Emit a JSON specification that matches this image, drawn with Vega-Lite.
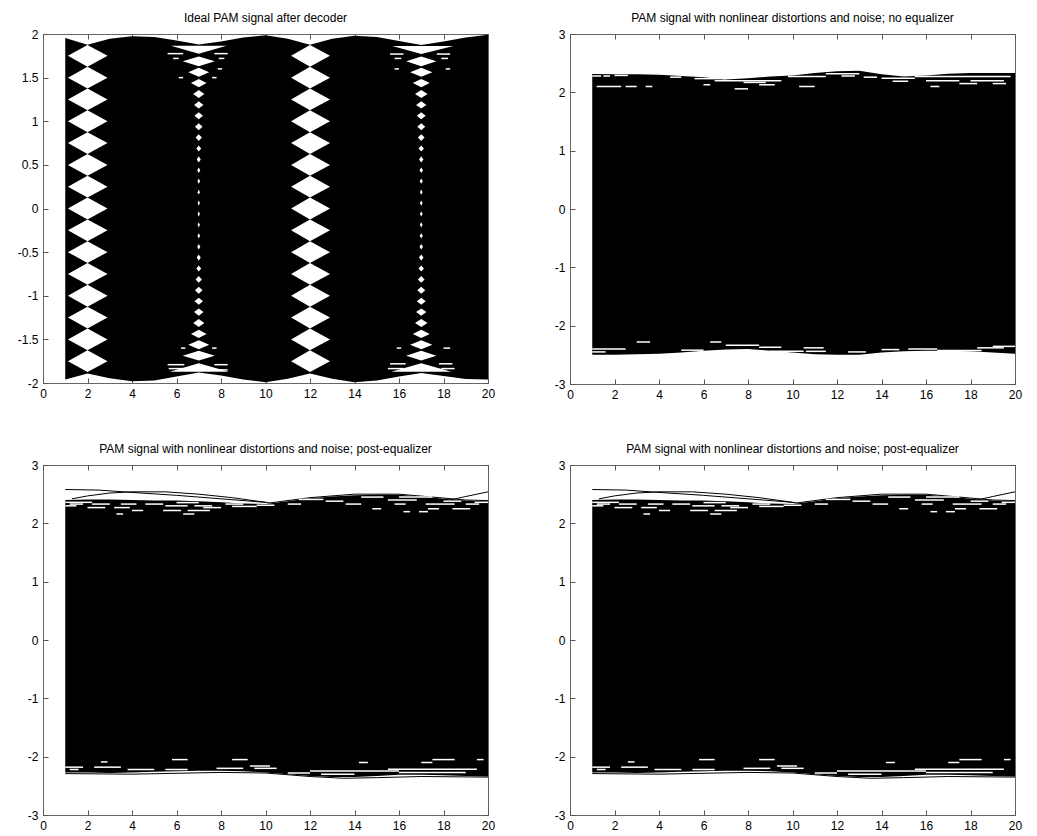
{
"$schema": "https://vega.github.io/schema/vega-lite/v6.json",
"padding": {"left": 16, "top": 11, "right": 5, "bottom": 5},
"background": "white",
"datasets": {
"env": [
{"p":"A","x":1,"hi":1.955,"lo":-1.96},{"p":"A","x":2,"hi":1.876,"lo":-1.89},{"p":"A","x":3,"hi":1.945,"lo":-1.945},{"p":"A","x":4,"hi":1.975,"lo":-1.98},{"p":"A","x":5,"hi":1.965,"lo":-1.97},{"p":"A","x":6,"hi":1.925,"lo":-1.925},{"p":"A","x":7,"hi":1.88,"lo":-1.88},{"p":"A","x":8,"hi":1.915,"lo":-1.915},{"p":"A","x":9,"hi":1.96,"lo":-1.96},{"p":"A","x":10,"hi":1.985,"lo":-1.99},{"p":"A","x":11,"hi":1.945,"lo":-1.95},{"p":"A","x":12,"hi":1.876,"lo":-1.89},{"p":"A","x":13,"hi":1.945,"lo":-1.95},{"p":"A","x":14,"hi":1.98,"lo":-1.99},{"p":"A","x":15,"hi":1.965,"lo":-1.97},{"p":"A","x":16,"hi":1.92,"lo":-1.925},{"p":"A","x":17,"hi":1.875,"lo":-1.885},{"p":"A","x":18,"hi":1.915,"lo":-1.92},{"p":"A","x":19,"hi":1.96,"lo":-1.955},{"p":"A","x":20,"hi":1.99,"lo":-1.96},
{"p":"B","x":1,"hi":2.315,"lo":-2.5},{"p":"B","x":2,"hi":2.31,"lo":-2.5},{"p":"B","x":3,"hi":2.31,"lo":-2.49},{"p":"B","x":4,"hi":2.3,"lo":-2.48},{"p":"B","x":5,"hi":2.28,"lo":-2.46},{"p":"B","x":6,"hi":2.26,"lo":-2.43},{"p":"B","x":7,"hi":2.22,"lo":-2.41},{"p":"B","x":8,"hi":2.24,"lo":-2.4},{"p":"B","x":9,"hi":2.27,"lo":-2.43},{"p":"B","x":10,"hi":2.29,"lo":-2.46},{"p":"B","x":11,"hi":2.33,"lo":-2.49},{"p":"B","x":12,"hi":2.36,"lo":-2.5},{"p":"B","x":13,"hi":2.37,"lo":-2.5},{"p":"B","x":14,"hi":2.31,"lo":-2.46},{"p":"B","x":15,"hi":2.27,"lo":-2.44},{"p":"B","x":16,"hi":2.29,"lo":-2.43},{"p":"B","x":17,"hi":2.32,"lo":-2.43},{"p":"B","x":18,"hi":2.33,"lo":-2.44},{"p":"B","x":19,"hi":2.33,"lo":-2.46},{"p":"B","x":20,"hi":2.33,"lo":-2.48},
{"p":"C","x":1,"hi":2.4,"lo":-2.27},{"p":"C","x":2,"hi":2.41,"lo":-2.27},{"p":"C","x":3,"hi":2.41,"lo":-2.28},{"p":"C","x":4,"hi":2.4,"lo":-2.27},{"p":"C","x":5,"hi":2.39,"lo":-2.26},{"p":"C","x":6,"hi":2.39,"lo":-2.25},{"p":"C","x":7,"hi":2.38,"lo":-2.24},{"p":"C","x":8,"hi":2.36,"lo":-2.24},{"p":"C","x":9,"hi":2.34,"lo":-2.25},{"p":"C","x":10,"hi":2.33,"lo":-2.27},{"p":"C","x":11,"hi":2.38,"lo":-2.3},{"p":"C","x":12,"hi":2.43,"lo":-2.33},{"p":"C","x":13,"hi":2.46,"lo":-2.35},{"p":"C","x":14,"hi":2.48,"lo":-2.35},{"p":"C","x":15,"hi":2.49,"lo":-2.33},{"p":"C","x":16,"hi":2.49,"lo":-2.31},{"p":"C","x":17,"hi":2.46,"lo":-2.31},{"p":"C","x":18,"hi":2.42,"lo":-2.32},{"p":"C","x":19,"hi":2.39,"lo":-2.33},{"p":"C","x":20,"hi":2.38,"lo":-2.34}
],
"dia": [
{"g":"b2a","x":1.12,"hi":-1.75,"lo":-1.75},{"g":"b2a","x":2,"hi":-1.625,"lo":-1.875},{"g":"b2a","x":2.9,"hi":-1.75,"lo":-1.75},
{"g":"b2b","x":1.12,"hi":-1.5,"lo":-1.5},{"g":"b2b","x":2,"hi":-1.375,"lo":-1.625},{"g":"b2b","x":2.9,"hi":-1.5,"lo":-1.5},
{"g":"b2c","x":1.12,"hi":-1.25,"lo":-1.25},{"g":"b2c","x":2,"hi":-1.125,"lo":-1.375},{"g":"b2c","x":2.9,"hi":-1.25,"lo":-1.25},
{"g":"b2d","x":1.12,"hi":-1,"lo":-1},{"g":"b2d","x":2,"hi":-0.875,"lo":-1.125},{"g":"b2d","x":2.9,"hi":-1,"lo":-1},
{"g":"b2e","x":1.12,"hi":-0.75,"lo":-0.75},{"g":"b2e","x":2,"hi":-0.625,"lo":-0.875},{"g":"b2e","x":2.9,"hi":-0.75,"lo":-0.75},
{"g":"b2f","x":1.12,"hi":-0.5,"lo":-0.5},{"g":"b2f","x":2,"hi":-0.375,"lo":-0.625},{"g":"b2f","x":2.9,"hi":-0.5,"lo":-0.5},
{"g":"b2g","x":1.12,"hi":-0.25,"lo":-0.25},{"g":"b2g","x":2,"hi":-0.125,"lo":-0.375},{"g":"b2g","x":2.9,"hi":-0.25,"lo":-0.25},
{"g":"b2h","x":1.12,"hi":0,"lo":0},{"g":"b2h","x":2,"hi":0.125,"lo":-0.125},{"g":"b2h","x":2.9,"hi":0,"lo":0},
{"g":"b2i","x":1.12,"hi":0.25,"lo":0.25},{"g":"b2i","x":2,"hi":0.375,"lo":0.125},{"g":"b2i","x":2.9,"hi":0.25,"lo":0.25},
{"g":"b2j","x":1.12,"hi":0.5,"lo":0.5},{"g":"b2j","x":2,"hi":0.625,"lo":0.375},{"g":"b2j","x":2.9,"hi":0.5,"lo":0.5},
{"g":"b2k","x":1.12,"hi":0.75,"lo":0.75},{"g":"b2k","x":2,"hi":0.875,"lo":0.625},{"g":"b2k","x":2.9,"hi":0.75,"lo":0.75},
{"g":"b2l","x":1.12,"hi":1,"lo":1},{"g":"b2l","x":2,"hi":1.125,"lo":0.875},{"g":"b2l","x":2.9,"hi":1,"lo":1},
{"g":"b2m","x":1.12,"hi":1.25,"lo":1.25},{"g":"b2m","x":2,"hi":1.375,"lo":1.125},{"g":"b2m","x":2.9,"hi":1.25,"lo":1.25},
{"g":"b2n","x":1.12,"hi":1.5,"lo":1.5},{"g":"b2n","x":2,"hi":1.625,"lo":1.375},{"g":"b2n","x":2.9,"hi":1.5,"lo":1.5},
{"g":"b2o","x":1.12,"hi":1.75,"lo":1.75},{"g":"b2o","x":2,"hi":1.875,"lo":1.625},{"g":"b2o","x":2.9,"hi":1.75,"lo":1.75},
{"g":"b12a","x":11.15,"hi":-1.75,"lo":-1.75},{"g":"b12a","x":12,"hi":-1.625,"lo":-1.875},{"g":"b12a","x":12.9,"hi":-1.75,"lo":-1.75},
{"g":"b12b","x":11.15,"hi":-1.5,"lo":-1.5},{"g":"b12b","x":12,"hi":-1.375,"lo":-1.625},{"g":"b12b","x":12.9,"hi":-1.5,"lo":-1.5},
{"g":"b12c","x":11.15,"hi":-1.25,"lo":-1.25},{"g":"b12c","x":12,"hi":-1.125,"lo":-1.375},{"g":"b12c","x":12.9,"hi":-1.25,"lo":-1.25},
{"g":"b12d","x":11.15,"hi":-1,"lo":-1},{"g":"b12d","x":12,"hi":-0.875,"lo":-1.125},{"g":"b12d","x":12.9,"hi":-1,"lo":-1},
{"g":"b12e","x":11.15,"hi":-0.75,"lo":-0.75},{"g":"b12e","x":12,"hi":-0.625,"lo":-0.875},{"g":"b12e","x":12.9,"hi":-0.75,"lo":-0.75},
{"g":"b12f","x":11.15,"hi":-0.5,"lo":-0.5},{"g":"b12f","x":12,"hi":-0.375,"lo":-0.625},{"g":"b12f","x":12.9,"hi":-0.5,"lo":-0.5},
{"g":"b12g","x":11.15,"hi":-0.25,"lo":-0.25},{"g":"b12g","x":12,"hi":-0.125,"lo":-0.375},{"g":"b12g","x":12.9,"hi":-0.25,"lo":-0.25},
{"g":"b12h","x":11.15,"hi":0,"lo":0},{"g":"b12h","x":12,"hi":0.125,"lo":-0.125},{"g":"b12h","x":12.9,"hi":0,"lo":0},
{"g":"b12i","x":11.15,"hi":0.25,"lo":0.25},{"g":"b12i","x":12,"hi":0.375,"lo":0.125},{"g":"b12i","x":12.9,"hi":0.25,"lo":0.25},
{"g":"b12j","x":11.15,"hi":0.5,"lo":0.5},{"g":"b12j","x":12,"hi":0.625,"lo":0.375},{"g":"b12j","x":12.9,"hi":0.5,"lo":0.5},
{"g":"b12k","x":11.15,"hi":0.75,"lo":0.75},{"g":"b12k","x":12,"hi":0.875,"lo":0.625},{"g":"b12k","x":12.9,"hi":0.75,"lo":0.75},
{"g":"b12l","x":11.15,"hi":1,"lo":1},{"g":"b12l","x":12,"hi":1.125,"lo":0.875},{"g":"b12l","x":12.9,"hi":1,"lo":1},
{"g":"b12m","x":11.15,"hi":1.25,"lo":1.25},{"g":"b12m","x":12,"hi":1.375,"lo":1.125},{"g":"b12m","x":12.9,"hi":1.25,"lo":1.25},
{"g":"b12n","x":11.15,"hi":1.5,"lo":1.5},{"g":"b12n","x":12,"hi":1.625,"lo":1.375},{"g":"b12n","x":12.9,"hi":1.5,"lo":1.5},
{"g":"b12o","x":11.15,"hi":1.75,"lo":1.75},{"g":"b12o","x":12,"hi":1.875,"lo":1.625},{"g":"b12o","x":12.9,"hi":1.75,"lo":1.75},
{"g":"s7p0","x":6.95,"hi":0.0625,"lo":0.0625},{"g":"s7p0","x":7,"hi":0.0925,"lo":0.0325},{"g":"s7p0","x":7.05,"hi":0.0625,"lo":0.0625},
{"g":"s7p1","x":6.95,"hi":0.1875,"lo":0.1875},{"g":"s7p1","x":7,"hi":0.2175,"lo":0.1575},{"g":"s7p1","x":7.05,"hi":0.1875,"lo":0.1875},
{"g":"s7p2","x":6.94,"hi":0.3125,"lo":0.3125},{"g":"s7p2","x":7,"hi":0.3425,"lo":0.2825},{"g":"s7p2","x":7.06,"hi":0.3125,"lo":0.3125},
{"g":"s7p3","x":6.93,"hi":0.4375,"lo":0.4375},{"g":"s7p3","x":7,"hi":0.4695,"lo":0.4055},{"g":"s7p3","x":7.07,"hi":0.4375,"lo":0.4375},
{"g":"s7p4","x":6.91,"hi":0.5625,"lo":0.5625},{"g":"s7p4","x":7,"hi":0.5975,"lo":0.5275},{"g":"s7p4","x":7.09,"hi":0.5625,"lo":0.5625},
{"g":"s7p5","x":6.89,"hi":0.6875,"lo":0.6875},{"g":"s7p5","x":7,"hi":0.7225,"lo":0.6525},{"g":"s7p5","x":7.11,"hi":0.6875,"lo":0.6875},
{"g":"s7p6","x":6.86,"hi":0.8125,"lo":0.8125},{"g":"s7p6","x":7,"hi":0.8505,"lo":0.7745},{"g":"s7p6","x":7.14,"hi":0.8125,"lo":0.8125},
{"g":"s7p7","x":6.83,"hi":0.9375,"lo":0.9375},{"g":"s7p7","x":7,"hi":0.9775,"lo":0.8975},{"g":"s7p7","x":7.17,"hi":0.9375,"lo":0.9375},
{"g":"s7p8","x":6.81,"hi":1.0625,"lo":1.0625},{"g":"s7p8","x":7,"hi":1.1025,"lo":1.0225},{"g":"s7p8","x":7.19,"hi":1.0625,"lo":1.0625},
{"g":"s7p9","x":6.79,"hi":1.1875,"lo":1.1875},{"g":"s7p9","x":7,"hi":1.2295,"lo":1.1455},{"g":"s7p9","x":7.21,"hi":1.1875,"lo":1.1875},
{"g":"s7p10","x":6.75,"hi":1.3125,"lo":1.3125},{"g":"s7p10","x":7,"hi":1.3575,"lo":1.2675},{"g":"s7p10","x":7.25,"hi":1.3125,"lo":1.3125},
{"g":"s7p11","x":6.65,"hi":1.4375,"lo":1.4375},{"g":"s7p11","x":7,"hi":1.4855,"lo":1.3895},{"g":"s7p11","x":7.35,"hi":1.4375,"lo":1.4375},
{"g":"s7p12","x":6.53,"hi":1.5625,"lo":1.5625},{"g":"s7p12","x":7,"hi":1.6145,"lo":1.5105},{"g":"s7p12","x":7.47,"hi":1.5625,"lo":1.5625},
{"g":"s7p13","x":6.28,"hi":1.6875,"lo":1.6875},{"g":"s7p13","x":7,"hi":1.7435,"lo":1.6315},{"g":"s7p13","x":7.72,"hi":1.6875,"lo":1.6875},
{"g":"s7m0","x":6.95,"hi":-0.0625,"lo":-0.0625},{"g":"s7m0","x":7,"hi":-0.0325,"lo":-0.0925},{"g":"s7m0","x":7.05,"hi":-0.0625,"lo":-0.0625},
{"g":"s7m1","x":6.95,"hi":-0.1875,"lo":-0.1875},{"g":"s7m1","x":7,"hi":-0.1575,"lo":-0.2175},{"g":"s7m1","x":7.05,"hi":-0.1875,"lo":-0.1875},
{"g":"s7m2","x":6.94,"hi":-0.3125,"lo":-0.3125},{"g":"s7m2","x":7,"hi":-0.2825,"lo":-0.3425},{"g":"s7m2","x":7.06,"hi":-0.3125,"lo":-0.3125},
{"g":"s7m3","x":6.93,"hi":-0.4375,"lo":-0.4375},{"g":"s7m3","x":7,"hi":-0.4055,"lo":-0.4695},{"g":"s7m3","x":7.07,"hi":-0.4375,"lo":-0.4375},
{"g":"s7m4","x":6.91,"hi":-0.5625,"lo":-0.5625},{"g":"s7m4","x":7,"hi":-0.5275,"lo":-0.5975},{"g":"s7m4","x":7.09,"hi":-0.5625,"lo":-0.5625},
{"g":"s7m5","x":6.89,"hi":-0.6875,"lo":-0.6875},{"g":"s7m5","x":7,"hi":-0.6525,"lo":-0.7225},{"g":"s7m5","x":7.11,"hi":-0.6875,"lo":-0.6875},
{"g":"s7m6","x":6.86,"hi":-0.8125,"lo":-0.8125},{"g":"s7m6","x":7,"hi":-0.7745,"lo":-0.8505},{"g":"s7m6","x":7.14,"hi":-0.8125,"lo":-0.8125},
{"g":"s7m7","x":6.83,"hi":-0.9375,"lo":-0.9375},{"g":"s7m7","x":7,"hi":-0.8975,"lo":-0.9775},{"g":"s7m7","x":7.17,"hi":-0.9375,"lo":-0.9375},
{"g":"s7m8","x":6.81,"hi":-1.0625,"lo":-1.0625},{"g":"s7m8","x":7,"hi":-1.0225,"lo":-1.1025},{"g":"s7m8","x":7.19,"hi":-1.0625,"lo":-1.0625},
{"g":"s7m9","x":6.79,"hi":-1.1875,"lo":-1.1875},{"g":"s7m9","x":7,"hi":-1.1455,"lo":-1.2295},{"g":"s7m9","x":7.21,"hi":-1.1875,"lo":-1.1875},
{"g":"s7m10","x":6.75,"hi":-1.3125,"lo":-1.3125},{"g":"s7m10","x":7,"hi":-1.2675,"lo":-1.3575},{"g":"s7m10","x":7.25,"hi":-1.3125,"lo":-1.3125},
{"g":"s7m11","x":6.65,"hi":-1.4375,"lo":-1.4375},{"g":"s7m11","x":7,"hi":-1.3895,"lo":-1.4855},{"g":"s7m11","x":7.35,"hi":-1.4375,"lo":-1.4375},
{"g":"s7m12","x":6.53,"hi":-1.5625,"lo":-1.5625},{"g":"s7m12","x":7,"hi":-1.5105,"lo":-1.6145},{"g":"s7m12","x":7.47,"hi":-1.5625,"lo":-1.5625},
{"g":"s7m13","x":6.28,"hi":-1.6875,"lo":-1.6875},{"g":"s7m13","x":7,"hi":-1.6315,"lo":-1.7435},{"g":"s7m13","x":7.72,"hi":-1.6875,"lo":-1.6875},
{"g":"s17p0","x":16.94,"hi":0.0625,"lo":0.0625},{"g":"s17p0","x":17,"hi":0.0925,"lo":0.0325},{"g":"s17p0","x":17.06,"hi":0.0625,"lo":0.0625},
{"g":"s17p1","x":16.94,"hi":0.1875,"lo":0.1875},{"g":"s17p1","x":17,"hi":0.2175,"lo":0.1575},{"g":"s17p1","x":17.06,"hi":0.1875,"lo":0.1875},
{"g":"s17p2","x":16.93,"hi":0.3125,"lo":0.3125},{"g":"s17p2","x":17,"hi":0.3425,"lo":0.2825},{"g":"s17p2","x":17.07,"hi":0.3125,"lo":0.3125},
{"g":"s17p3","x":16.92,"hi":0.4375,"lo":0.4375},{"g":"s17p3","x":17,"hi":0.4695,"lo":0.4055},{"g":"s17p3","x":17.08,"hi":0.4375,"lo":0.4375},
{"g":"s17p4","x":16.9,"hi":0.5625,"lo":0.5625},{"g":"s17p4","x":17,"hi":0.5975,"lo":0.5275},{"g":"s17p4","x":17.1,"hi":0.5625,"lo":0.5625},
{"g":"s17p5","x":16.88,"hi":0.6875,"lo":0.6875},{"g":"s17p5","x":17,"hi":0.7225,"lo":0.6525},{"g":"s17p5","x":17.12,"hi":0.6875,"lo":0.6875},
{"g":"s17p6","x":16.85,"hi":0.8125,"lo":0.8125},{"g":"s17p6","x":17,"hi":0.8505,"lo":0.7745},{"g":"s17p6","x":17.15,"hi":0.8125,"lo":0.8125},
{"g":"s17p7","x":16.82,"hi":0.9375,"lo":0.9375},{"g":"s17p7","x":17,"hi":0.9775,"lo":0.8975},{"g":"s17p7","x":17.18,"hi":0.9375,"lo":0.9375},
{"g":"s17p8","x":16.8,"hi":1.0625,"lo":1.0625},{"g":"s17p8","x":17,"hi":1.1025,"lo":1.0225},{"g":"s17p8","x":17.2,"hi":1.0625,"lo":1.0625},
{"g":"s17p9","x":16.77,"hi":1.1875,"lo":1.1875},{"g":"s17p9","x":17,"hi":1.2295,"lo":1.1455},{"g":"s17p9","x":17.23,"hi":1.1875,"lo":1.1875},
{"g":"s17p10","x":16.72,"hi":1.3125,"lo":1.3125},{"g":"s17p10","x":17,"hi":1.3575,"lo":1.2675},{"g":"s17p10","x":17.28,"hi":1.3125,"lo":1.3125},
{"g":"s17p11","x":16.62,"hi":1.4375,"lo":1.4375},{"g":"s17p11","x":17,"hi":1.4855,"lo":1.3895},{"g":"s17p11","x":17.38,"hi":1.4375,"lo":1.4375},
{"g":"s17p12","x":16.5,"hi":1.5625,"lo":1.5625},{"g":"s17p12","x":17,"hi":1.6145,"lo":1.5105},{"g":"s17p12","x":17.5,"hi":1.5625,"lo":1.5625},
{"g":"s17p13","x":16.32,"hi":1.6875,"lo":1.6875},{"g":"s17p13","x":17,"hi":1.7435,"lo":1.6315},{"g":"s17p13","x":17.68,"hi":1.6875,"lo":1.6875},
{"g":"s17m0","x":16.94,"hi":-0.0625,"lo":-0.0625},{"g":"s17m0","x":17,"hi":-0.0325,"lo":-0.0925},{"g":"s17m0","x":17.06,"hi":-0.0625,"lo":-0.0625},
{"g":"s17m1","x":16.94,"hi":-0.1875,"lo":-0.1875},{"g":"s17m1","x":17,"hi":-0.1575,"lo":-0.2175},{"g":"s17m1","x":17.06,"hi":-0.1875,"lo":-0.1875},
{"g":"s17m2","x":16.93,"hi":-0.3125,"lo":-0.3125},{"g":"s17m2","x":17,"hi":-0.2825,"lo":-0.3425},{"g":"s17m2","x":17.07,"hi":-0.3125,"lo":-0.3125},
{"g":"s17m3","x":16.92,"hi":-0.4375,"lo":-0.4375},{"g":"s17m3","x":17,"hi":-0.4055,"lo":-0.4695},{"g":"s17m3","x":17.08,"hi":-0.4375,"lo":-0.4375},
{"g":"s17m4","x":16.9,"hi":-0.5625,"lo":-0.5625},{"g":"s17m4","x":17,"hi":-0.5275,"lo":-0.5975},{"g":"s17m4","x":17.1,"hi":-0.5625,"lo":-0.5625},
{"g":"s17m5","x":16.88,"hi":-0.6875,"lo":-0.6875},{"g":"s17m5","x":17,"hi":-0.6525,"lo":-0.7225},{"g":"s17m5","x":17.12,"hi":-0.6875,"lo":-0.6875},
{"g":"s17m6","x":16.85,"hi":-0.8125,"lo":-0.8125},{"g":"s17m6","x":17,"hi":-0.7745,"lo":-0.8505},{"g":"s17m6","x":17.15,"hi":-0.8125,"lo":-0.8125},
{"g":"s17m7","x":16.82,"hi":-0.9375,"lo":-0.9375},{"g":"s17m7","x":17,"hi":-0.8975,"lo":-0.9775},{"g":"s17m7","x":17.18,"hi":-0.9375,"lo":-0.9375},
{"g":"s17m8","x":16.8,"hi":-1.0625,"lo":-1.0625},{"g":"s17m8","x":17,"hi":-1.0225,"lo":-1.1025},{"g":"s17m8","x":17.2,"hi":-1.0625,"lo":-1.0625},
{"g":"s17m9","x":16.77,"hi":-1.1875,"lo":-1.1875},{"g":"s17m9","x":17,"hi":-1.1455,"lo":-1.2295},{"g":"s17m9","x":17.23,"hi":-1.1875,"lo":-1.1875},
{"g":"s17m10","x":16.72,"hi":-1.3125,"lo":-1.3125},{"g":"s17m10","x":17,"hi":-1.2675,"lo":-1.3575},{"g":"s17m10","x":17.28,"hi":-1.3125,"lo":-1.3125},
{"g":"s17m11","x":16.62,"hi":-1.4375,"lo":-1.4375},{"g":"s17m11","x":17,"hi":-1.3895,"lo":-1.4855},{"g":"s17m11","x":17.38,"hi":-1.4375,"lo":-1.4375},
{"g":"s17m12","x":16.5,"hi":-1.5625,"lo":-1.5625},{"g":"s17m12","x":17,"hi":-1.5105,"lo":-1.6145},{"g":"s17m12","x":17.5,"hi":-1.5625,"lo":-1.5625},
{"g":"s17m13","x":16.32,"hi":-1.6875,"lo":-1.6875},{"g":"s17m13","x":17,"hi":-1.6315,"lo":-1.7435},{"g":"s17m13","x":17.68,"hi":-1.6875,"lo":-1.6875},
{"g":"t7t","x":5.75,"hi":1.865,"lo":1.865},{"g":"t7t","x":7,"hi":1.865,"lo":1.775},{"g":"t7t","x":8.25,"hi":1.865,"lo":1.865},
{"g":"t7b","x":5.7,"hi":-1.87,"lo":-1.87},{"g":"t7b","x":7,"hi":-1.775,"lo":-1.87},{"g":"t7b","x":8.35,"hi":-1.87,"lo":-1.87},
{"g":"t17t","x":15.7,"hi":1.862,"lo":1.862},{"g":"t17t","x":17,"hi":1.862,"lo":1.77},{"g":"t17t","x":18.45,"hi":1.862,"lo":1.862},
{"g":"t17b","x":15.65,"hi":-1.87,"lo":-1.87},{"g":"t17b","x":17,"hi":-1.775,"lo":-1.87},{"g":"t17b","x":18.35,"hi":-1.87,"lo":-1.87}
],
"streak": [
{"p":"A","x":5.6,"x2":6.3,"y":1.775},{"p":"A","x":7.7,"x2":8.3,"y":1.775},{"p":"A","x":5.85,"x2":6.1,"y":1.72},{"p":"A","x":7.9,"x2":8.15,"y":1.72},{"p":"A","x":6.1,"x2":6.3,"y":1.5},{"p":"A","x":7.6,"x2":7.8,"y":1.5},{"p":"A","x":7.85,"x2":8.05,"y":1.6},{"p":"A","x":5.6,"x2":6.35,"y":-1.79},{"p":"A","x":7.7,"x2":8.3,"y":-1.79},{"p":"A","x":5.65,"x2":6.4,"y":-1.835},{"p":"A","x":7.6,"x2":8.3,"y":-1.85},{"p":"A","x":6.2,"x2":6.4,"y":-1.6},{"p":"A","x":7.6,"x2":7.8,"y":-1.6},{"p":"A","x":15.6,"x2":16.2,"y":1.77},{"p":"A","x":17.7,"x2":18.3,"y":1.77},{"p":"A","x":15.8,"x2":16.1,"y":1.72},{"p":"A","x":17.9,"x2":18.2,"y":1.72},{"p":"A","x":15.8,"x2":16.0,"y":1.6},{"p":"A","x":18.1,"x2":18.3,"y":1.6},{"p":"A","x":15.6,"x2":16.3,"y":-1.78},{"p":"A","x":17.8,"x2":18.4,"y":-1.78},{"p":"A","x":15.5,"x2":16.2,"y":-1.835},{"p":"A","x":17.9,"x2":18.5,"y":-1.835},{"p":"A","x":15.9,"x2":16.1,"y":-1.6},{"p":"A","x":18.0,"x2":18.3,"y":-1.6},
{"p":"B","x":1.0,"x2":1.4,"y":2.28},{"p":"B","x":1.5,"x2":1.8,"y":2.28},{"p":"B","x":1.2,"x2":2.3,"y":2.1},{"p":"B","x":2.5,"x2":3.0,"y":2.1},{"p":"B","x":3.4,"x2":3.7,"y":2.1},{"p":"B","x":4.5,"x2":5.0,"y":2.26},{"p":"B","x":5.6,"x2":7.0,"y":2.235},{"p":"B","x":6.5,"x2":9.5,"y":2.2},{"p":"B","x":7.8,"x2":8.8,"y":2.17},{"p":"B","x":6.0,"x2":6.3,"y":2.13},{"p":"B","x":8.5,"x2":9.2,"y":2.13},{"p":"B","x":9.8,"x2":11.5,"y":2.27},{"p":"B","x":11.5,"x2":13,"y":2.32},{"p":"B","x":14,"x2":15.5,"y":2.24},{"p":"B","x":15.5,"x2":19.8,"y":2.27},{"p":"B","x":16,"x2":17.5,"y":2.2},{"p":"B","x":18,"x2":19.5,"y":2.2},{"p":"B","x":17.5,"x2":18.3,"y":2.15},{"p":"B","x":19,"x2":19.6,"y":2.15},{"p":"B","x":2.0,"x2":2.6,"y":2.29},{"p":"B","x":7.4,"x2":8.0,"y":2.06},{"p":"B","x":10.3,"x2":11.0,"y":2.1},{"p":"B","x":12.2,"x2":12.8,"y":2.28},{"p":"B","x":13.2,"x2":13.8,"y":2.26},{"p":"B","x":14.5,"x2":15.2,"y":2.19},{"p":"B","x":16.2,"x2":16.6,"y":2.1},
{"p":"B","x":1,"x2":2.5,"y":-2.4},{"p":"B","x":1,"x2":1.6,"y":-2.45},{"p":"B","x":3.0,"x2":3.6,"y":-2.28},{"p":"B","x":6.3,"x2":6.8,"y":-2.28},{"p":"B","x":7,"x2":8.5,"y":-2.335},{"p":"B","x":8.5,"x2":9.5,"y":-2.37},{"p":"B","x":9,"x2":10.5,"y":-2.44},{"p":"B","x":10.6,"x2":11.5,"y":-2.44},{"p":"B","x":10.5,"x2":11.4,"y":-2.38},{"p":"B","x":15.2,"x2":16.5,"y":-2.4},{"p":"B","x":16.5,"x2":18.5,"y":-2.425},{"p":"B","x":18.3,"x2":19.5,"y":-2.38},{"p":"B","x":19,"x2":20,"y":-2.355},{"p":"B","x":5.0,"x2":6.0,"y":-2.42},{"p":"B","x":12.5,"x2":13.3,"y":-2.45},{"p":"B","x":14.0,"x2":14.8,"y":-2.41},
{"p":"C","x":1.2,"x2":1.8,"y":2.33},{"p":"C","x":2.2,"x2":3.0,"y":2.33},{"p":"C","x":3.5,"x2":4.2,"y":2.33},{"p":"C","x":4.6,"x2":5.4,"y":2.33},{"p":"C","x":1.0,"x2":1.5,"y":2.3},{"p":"C","x":5.5,"x2":6.5,"y":2.3},{"p":"C","x":6.8,"x2":7.6,"y":2.3},{"p":"C","x":2.0,"x2":2.8,"y":2.27},{"p":"C","x":3.2,"x2":3.9,"y":2.27},{"p":"C","x":7.2,"x2":8.0,"y":2.27},{"p":"C","x":6.0,"x2":7.0,"y":2.355},{"p":"C","x":8.2,"x2":9.0,"y":2.33},{"p":"C","x":4.0,"x2":4.5,"y":2.22},{"p":"C","x":5.4,"x2":6.2,"y":2.22},{"p":"C","x":6.5,"x2":7.5,"y":2.22},{"p":"C","x":3.3,"x2":3.6,"y":2.16},{"p":"C","x":6.3,"x2":6.8,"y":2.16},{"p":"C","x":11.5,"x2":12.6,"y":2.41},{"p":"C","x":14.3,"x2":15.3,"y":2.45},{"p":"C","x":12.7,"x2":13.5,"y":2.38},{"p":"C","x":15.5,"x2":16.8,"y":2.4},{"p":"C","x":18.0,"x2":18.8,"y":2.38},{"p":"C","x":13.6,"x2":14.3,"y":2.33},{"p":"C","x":15.8,"x2":16.3,"y":2.33},{"p":"C","x":17.2,"x2":18.5,"y":2.33},{"p":"C","x":19.0,"x2":19.6,"y":2.33},{"p":"C","x":16.0,"x2":17.5,"y":2.45},{"p":"C","x":14.8,"x2":15.2,"y":2.25},{"p":"C","x":17.3,"x2":17.8,"y":2.25},{"p":"C","x":18.4,"x2":19.2,"y":2.25},{"p":"C","x":16.2,"x2":16.5,"y":2.2},{"p":"C","x":16.9,"x2":17.3,"y":2.2},{"p":"C","x":1.0,"x2":2.2,"y":2.36},{"p":"C","x":8.5,"x2":9.6,"y":2.29},{"p":"C","x":9.6,"x2":10.4,"y":2.31},{"p":"C","x":11.0,"x2":11.6,"y":2.33},{"p":"C","x":19.4,"x2":20,"y":2.36},
{"p":"C","x":1.0,"x2":1.8,"y":-2.18},{"p":"C","x":2.3,"x2":3.5,"y":-2.18},{"p":"C","x":1.2,"x2":1.6,"y":-2.22},{"p":"C","x":3.8,"x2":5.0,"y":-2.22},{"p":"C","x":5.5,"x2":6.5,"y":-2.22},{"p":"C","x":2.6,"x2":2.9,"y":-2.09},{"p":"C","x":7.8,"x2":9.0,"y":-2.2},{"p":"C","x":9.5,"x2":10.5,"y":-2.2},{"p":"C","x":9.3,"x2":10.2,"y":-2.16},{"p":"C","x":12.0,"x2":16.0,"y":-2.245},{"p":"C","x":15.5,"x2":19.5,"y":-2.215},{"p":"C","x":16.0,"x2":19.0,"y":-2.27},{"p":"C","x":5.8,"x2":6.5,"y":-2.05},{"p":"C","x":8.5,"x2":9.2,"y":-2.05},{"p":"C","x":17.5,"x2":18.5,"y":-2.05},{"p":"C","x":19.5,"x2":19.8,"y":-2.05},{"p":"C","x":17.0,"x2":17.5,"y":-2.1},{"p":"C","x":14.2,"x2":14.6,"y":-2.1},{"p":"C","x":11.0,"x2":12.0,"y":-2.28},{"p":"C","x":12.5,"x2":14,"y":-2.3}
],
"tr": [
{"g":"t1","x":1,"y":2.58},{"g":"t1","x":2.5,"y":2.57},{"g":"t1","x":4,"y":2.53},{"g":"t1","x":6,"y":2.48},{"g":"t1","x":8,"y":2.42},{"g":"t1","x":10,"y":2.36},
{"g":"t2","x":1.3,"y":2.42},{"g":"t2","x":2,"y":2.47},{"g":"t2","x":3,"y":2.52},{"g":"t2","x":4,"y":2.54},{"g":"t2","x":5.5,"y":2.54},{"g":"t2","x":7,"y":2.5},{"g":"t2","x":8.5,"y":2.44},{"g":"t2","x":10.2,"y":2.35},
{"g":"t3","x":18.3,"y":2.4},{"g":"t3","x":19,"y":2.46},{"g":"t3","x":20,"y":2.54},
{"g":"t4","x":10.2,"y":2.35},{"g":"t4","x":12,"y":2.44},{"g":"t4","x":14,"y":2.5},{"g":"t4","x":16,"y":2.5},{"g":"t4","x":17.5,"y":2.45},{"g":"t4","x":19,"y":2.4},{"g":"t4","x":20,"y":2.39},
{"g":"b1","x":1,"y":-2.29},{"g":"b1","x":4,"y":-2.3},{"g":"b1","x":8,"y":-2.27},{"g":"b1","x":10,"y":-2.28},{"g":"b1","x":12,"y":-2.34},{"g":"b1","x":13.5,"y":-2.37},{"g":"b1","x":15,"y":-2.36},{"g":"b1","x":17,"y":-2.34},{"g":"b1","x":20,"y":-2.35}
]
},
"vconcat": [
{"hconcat": [
{"title": "Ideal PAM signal after decoder", "width": 445, "height": 349,
 "resolve": {"axis": {"x": "independent", "y": "independent"}},
 "layer": [
  {"data": {"name": "env"}, "transform": [{"filter": "datum.p == 'A'"}], "mark": {"type": "area", "color": "black"},
   "encoding": {"x": {"field": "x", "type": "quantitative", "scale": {"domain": [0, 20], "nice": false, "zero": false}, "axis": {"orient": "bottom", "title": null, "values": [0,2,4,6,8,10,12,14,16,18,20], "labelExpr": "'' + datum.value"}},
    "y": {"field": "hi", "type": "quantitative", "scale": {"domain": [-2, 2], "nice": false, "zero": false}, "axis": {"orient": "left", "title": null, "values": [-2,-1.5,-1,-0.5,0,0.5,1,1.5,2], "labelExpr": "'' + datum.value"}},
    "y2": {"field": "lo"}}},
  {"data": {"name": "dia"}, "mark": {"type": "area", "color": "white"},
   "encoding": {"x": {"field": "x", "type": "quantitative", "scale": {"domain": [0, 20], "nice": false, "zero": false}, "axis": null},
    "y": {"field": "hi", "type": "quantitative", "scale": {"domain": [-2, 2], "nice": false, "zero": false}, "axis": null},
    "y2": {"field": "lo"}, "detail": {"field": "g"}}},
  {"data": {"name": "streak"}, "transform": [{"filter": "datum.p == 'A'"}], "mark": {"type": "rule", "color": "white", "strokeWidth": 1.5},
   "encoding": {"x": {"field": "x", "type": "quantitative", "scale": {"domain": [0, 20], "nice": false, "zero": false}, "axis": {"orient": "top", "title": null, "labels": false, "values": [0,2,4,6,8,10,12,14,16,18,20]}},
    "x2": {"field": "x2"},
    "y": {"field": "y", "type": "quantitative", "scale": {"domain": [-2, 2], "nice": false, "zero": false}, "axis": {"orient": "right", "title": null, "labels": false, "values": [-2,-1.5,-1,-0.5,0,0.5,1,1.5,2]}}}}
 ]},
{"title": "PAM signal with nonlinear distortions and noise; no equalizer", "width": 445, "height": 350,
 "resolve": {"axis": {"x": "independent", "y": "independent"}},
 "layer": [
  {"data": {"name": "env"}, "transform": [{"filter": "datum.p == 'B'"}], "mark": {"type": "area", "color": "black"},
   "encoding": {"x": {"field": "x", "type": "quantitative", "scale": {"domain": [0, 20], "nice": false, "zero": false}, "axis": {"orient": "bottom", "title": null, "values": [0,2,4,6,8,10,12,14,16,18,20], "labelExpr": "'' + datum.value"}},
    "y": {"field": "hi", "type": "quantitative", "scale": {"domain": [-3, 3], "nice": false, "zero": false}, "axis": {"orient": "left", "title": null, "values": [-3,-2,-1,0,1,2,3], "labelExpr": "'' + datum.value"}},
    "y2": {"field": "lo"}}},
  {"data": {"name": "streak"}, "transform": [{"filter": "datum.p == 'B'"}], "mark": {"type": "rule", "color": "white", "strokeWidth": 1.5},
   "encoding": {"x": {"field": "x", "type": "quantitative", "scale": {"domain": [0, 20], "nice": false, "zero": false}, "axis": {"orient": "top", "title": null, "labels": false, "values": [0,2,4,6,8,10,12,14,16,18,20]}},
    "x2": {"field": "x2"},
    "y": {"field": "y", "type": "quantitative", "scale": {"domain": [-3, 3], "nice": false, "zero": false}, "axis": {"orient": "right", "title": null, "labels": false, "values": [-3,-2,-1,0,1,2,3]}}}}
 ]}
], "spacing": 57},
{"hconcat": [
{"title": "PAM signal with nonlinear distortions and noise; post-equalizer", "width": 445, "height": 350,
 "resolve": {"axis": {"x": "independent", "y": "independent"}},
 "layer": [
  {"data": {"name": "env"}, "transform": [{"filter": "datum.p == 'C'"}], "mark": {"type": "area", "color": "black"},
   "encoding": {"x": {"field": "x", "type": "quantitative", "scale": {"domain": [0, 20], "nice": false, "zero": false}, "axis": {"orient": "bottom", "title": null, "values": [0,2,4,6,8,10,12,14,16,18,20], "labelExpr": "'' + datum.value"}},
    "y": {"field": "hi", "type": "quantitative", "scale": {"domain": [-3, 3], "nice": false, "zero": false}, "axis": {"orient": "left", "title": null, "values": [-3,-2,-1,0,1,2,3], "labelExpr": "'' + datum.value"}},
    "y2": {"field": "lo"}}},
  {"data": {"name": "tr"}, "mark": {"type": "line", "color": "black", "strokeWidth": 1},
   "encoding": {"x": {"field": "x", "type": "quantitative", "scale": {"domain": [0, 20], "nice": false, "zero": false}, "axis": null},
    "y": {"field": "y", "type": "quantitative", "scale": {"domain": [-3, 3], "nice": false, "zero": false}, "axis": null}, "detail": {"field": "g"}}},
  {"data": {"name": "streak"}, "transform": [{"filter": "datum.p == 'C'"}], "mark": {"type": "rule", "color": "white", "strokeWidth": 1.5},
   "encoding": {"x": {"field": "x", "type": "quantitative", "scale": {"domain": [0, 20], "nice": false, "zero": false}, "axis": {"orient": "top", "title": null, "labels": false, "values": [0,2,4,6,8,10,12,14,16,18,20]}},
    "x2": {"field": "x2"},
    "y": {"field": "y", "type": "quantitative", "scale": {"domain": [-3, 3], "nice": false, "zero": false}, "axis": {"orient": "right", "title": null, "labels": false, "values": [-3,-2,-1,0,1,2,3]}}}}
 ]},
{"title": "PAM signal with nonlinear distortions and noise; post-equalizer", "width": 445, "height": 350,
 "resolve": {"axis": {"x": "independent", "y": "independent"}},
 "layer": [
  {"data": {"name": "env"}, "transform": [{"filter": "datum.p == 'C'"}], "mark": {"type": "area", "color": "black"},
   "encoding": {"x": {"field": "x", "type": "quantitative", "scale": {"domain": [0, 20], "nice": false, "zero": false}, "axis": {"orient": "bottom", "title": null, "values": [0,2,4,6,8,10,12,14,16,18,20], "labelExpr": "'' + datum.value"}},
    "y": {"field": "hi", "type": "quantitative", "scale": {"domain": [-3, 3], "nice": false, "zero": false}, "axis": {"orient": "left", "title": null, "values": [-3,-2,-1,0,1,2,3], "labelExpr": "'' + datum.value"}},
    "y2": {"field": "lo"}}},
  {"data": {"name": "tr"}, "mark": {"type": "line", "color": "black", "strokeWidth": 1},
   "encoding": {"x": {"field": "x", "type": "quantitative", "scale": {"domain": [0, 20], "nice": false, "zero": false}, "axis": null},
    "y": {"field": "y", "type": "quantitative", "scale": {"domain": [-3, 3], "nice": false, "zero": false}, "axis": null}, "detail": {"field": "g"}}},
  {"data": {"name": "streak"}, "transform": [{"filter": "datum.p == 'C'"}], "mark": {"type": "rule", "color": "white", "strokeWidth": 1.5},
   "encoding": {"x": {"field": "x", "type": "quantitative", "scale": {"domain": [0, 20], "nice": false, "zero": false}, "axis": {"orient": "top", "title": null, "labels": false, "values": [0,2,4,6,8,10,12,14,16,18,20]}},
    "x2": {"field": "x2"},
    "y": {"field": "y", "type": "quantitative", "scale": {"domain": [-3, 3], "nice": false, "zero": false}, "axis": {"orient": "right", "title": null, "labels": false, "values": [-3,-2,-1,0,1,2,3]}}}}
 ]}
], "spacing": 57}
],
"spacing": 41,
"config": {
 "font": "Liberation Sans",
 "view": {"stroke": "#666", "strokeWidth": 1},
 "axis": {"domain": false, "grid": false, "ticks": true, "tickSize": -5, "tickColor": "#555", "labelFont": "Liberation Sans", "labelFontSize": 12, "labelColor": "#000", "labelPadding": 10, "labelFlush": false, "labelOverlap": false, "labelBound": false},
 "title": {"font": "Liberation Sans", "fontSize": 12, "fontWeight": "normal", "color": "#000", "offset": 3}
}
}
